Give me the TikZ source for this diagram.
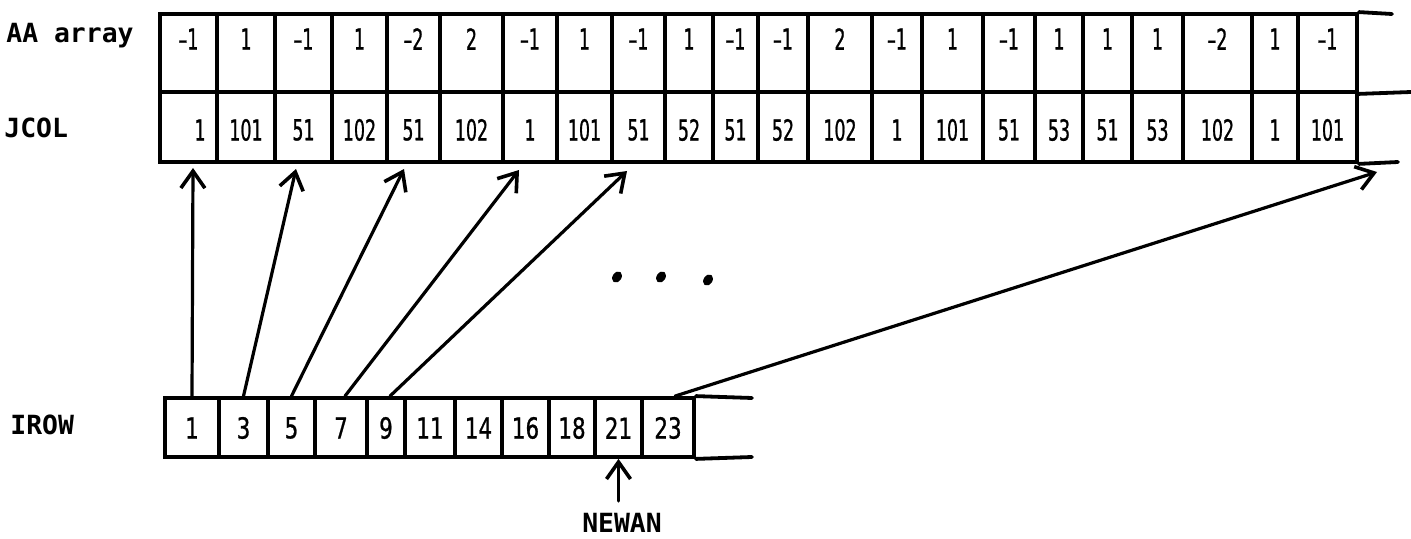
\documentclass[tikz,border=0pt]{standalone}
\usepackage{fontspec}
\usetikzlibrary{arrows.meta,fit,calc}
\newfontfamily\labfont{DejaVu Sans Mono}
\newfontfamily\numfont[FakeStretch=0.6,FakeBold=0.8]{DejaVu Sans}
\newfontfamily\irowfont[FakeStretch=0.74,FakeBold=0.8]{DejaVu Sans}
\begin{document}
\begin{tikzpicture}[x=0.5pt,y=-0.5pt,
  cell/.style={draw, line width=1.9pt, inner sep=0pt},
  val/.style={font=\numfont\fontsize{14.5}{15}\selectfont, inner sep=0pt},
  ival/.style={font=\irowfont\fontsize{14.5}{15}\selectfont, inner sep=0pt},
  lab/.style={font=\labfont\bfseries\fontsize{13.2}{14}\selectfont, inner sep=0pt},
  rim/.style={line width=1.9pt, line cap=round},
  ptr/.style={line width=1.6pt, line cap=round,
    -{Straight Barb[length=8.5pt,width=12pt,line width=1.8pt]}}]
\fill[white] (0,0) rectangle (1411,539);
\useasboundingbox (0,0) rectangle (1411,539);

% row labels
\node[lab, anchor=west] (laa) at (6,36) {AA array};
\node[lab, anchor=west] (ljc) at (4,128) {JCOL};
\node[lab, anchor=west] (lir) at (10,425) {IROW};

% AA and JCOL arrays
\def\topx{{160,217,275,332,387,440,503,557,612,665,713,758,808,872,922,983,1035,1083,1132,1183,1252,1298,1357}}
\foreach \a/\j [count=\n from 0] in
  {–1/1,1/101,–1/51,1/102,–2/51,2/102,–1/1,1/101,–1/51,1/52,–1/51,
   –1/52,2/102,–1/1,1/101,–1/51,1/53,1/51,1/53,–2/102,1/1,–1/101}{
  \pgfmathsetmacro\xl{\topx[\n]}
  \pgfmathsetmacro\xr{\topx[\n+1]}
  \pgfmathsetmacro\xc{(\xl+\xr)/2}
  \pgfmathsetmacro\xj{\n==0 ? 200 : \xc}
  \node[cell, fit={(\xl,14) (\xr,92)}] (aa\n) {};
  \node[cell, fit={(\xl,92) (\xr,162)}] (jc\n) {};
  \node[val] (av\n) at (\xc,39) {\a};
  \node[val] (jv\n) at (\xj,130) {\j};
}
% open end of the two arrays
\coordinate (aend) at (1392,14);
\coordinate (mend) at (1411,92);
\coordinate (jend) at (1398,162);
\draw[rim] (aa21.north east) -- (aend);
\draw[rim] (aa21.south east) -- (mend);
\draw[rim] (jc21.south east) -- (jend);

% IROW array
\def\irx{{165,219,268,315,367,405,455,502,549,595,642,694}}
\foreach \v [count=\n from 0] in {1,3,5,7,9,11,14,16,18,21,23}{
  \pgfmathsetmacro\xl{\irx[\n]}
  \pgfmathsetmacro\xr{\irx[\n+1]}
  \pgfmathsetmacro\xc{(\xl+\xr)/2}
  \node[cell, fit={(\xl,398) (\xr,457)}] (ir\n) {};
  \node[ival] (iv\n) at (\xc,428) {\v};
}
\coordinate (itop) at (752,398);
\coordinate (ibot) at (752,457);
\draw[rim] (ir10.north east) -- (itop);
\draw[rim] (ir10.south east) -- (ibot);

% row pointers from IROW into JCOL
\coordinate (t0) at (193,168);
\coordinate (t1) at (296,169);
\coordinate (t2) at (404,169);
\coordinate (t3) at (519,170);
\coordinate (t4) at (627,171);
\coordinate (t5) at (1377,172);
\draw[ptr] (ir0.north) -- (t0);
\draw[ptr] (ir1.north) -- (t1);
\draw[ptr] (ir2.north) -- (t2);
\draw[ptr] ([xshift=2pt]ir3.north) -- (t3);
\draw[ptr] ([xshift=2pt]ir4.north) -- (t4);
\draw[ptr] ([xshift=3.5pt]ir10.north) -- (t5);

% ellipsis
\foreach \x/\y/\k in {617/277/1,661/277/2,708/280/3}{
  \fill[rotate around={55:(\x,\y)}] (\x,\y) ellipse [x radius=3pt, y radius=2.2pt];
}

% NEWAN marker
\node[lab] (newan) at (622,523) {NEWAN};
\draw[ptr] ([yshift=6pt]newan.north -| ir9.south) -- (ir9.south);
\end{tikzpicture}
\end{document}
